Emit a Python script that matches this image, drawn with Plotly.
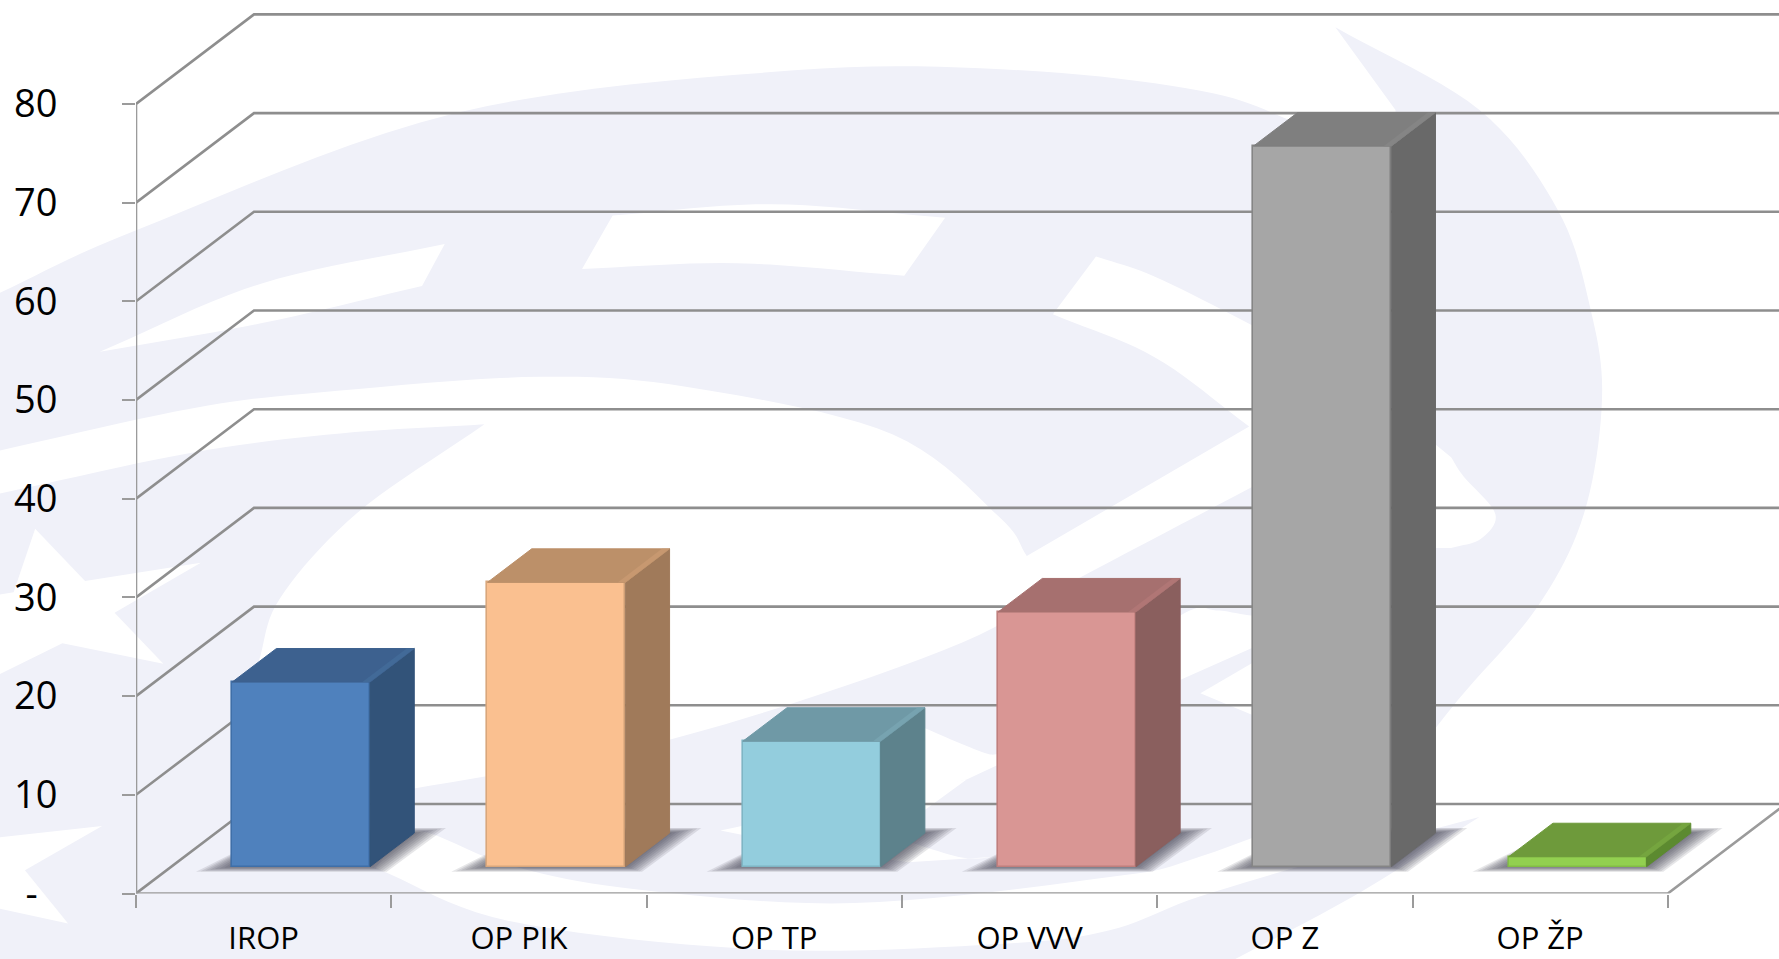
import numpy as np
import plotly.graph_objects as go

# ---- data ----
categories = ["IROP", "OP PIK", "OP TP", "OP VVV", "OP Z", "OP ŽP"]
values = [18.7, 28.8, 12.7, 25.8, 73.0, 1.0]
front_colors = ["#4f81bd", "#fac090", "#93cddd", "#d99694", "#a6a6a6", "#92d050"]
top_colors = ["#3d618f", "#bc9069", "#6f99a6", "#a6706f", "#7f7f7f", "#6e9a3b"]
side_colors = ["#325379", "#a07a5a", "#5d828c", "#8a5f5e", "#696969", "#5c8a30"]
edge_colors = ["#3f6fa8", "#d9a77c", "#7fb5c4", "#c07f7d", "#858585", "#82bd45"]
hi_colors = ["#426a98", "#c79870", "#77a3b0", "#b07675", "#858585", "#75a53f"]
y_ticks = [0, 10, 20, 30, 40, 50, 60, 70, 80]
y_labels = ["-\u00a0\u00a0", "10", "20", "30", "40", "50", "60", "70", "80"]

# ---- layout constants ----
W, H = 1779, 959
AX_L, AX_B = 136, 65.5
PX_X = 255.3
PX_Y = 9.87
DX = 118 / PX_X   # depth offset of the back wall
DY = 89.5 / PX_Y
FRONT, BACK = 0.30, 0.675
BAR_W = 0.54
XMAX = (W - AX_L) / PX_X
YMAX = (H - AX_B) / PX_Y
GRID = "#8e8e8e"
LAV = "#f0f1f9"
FS = 1779 / 1568


def smooth(pts, n=10):
    """Catmull-Rom sampling for the outlines of the watermark."""
    p = np.array(pts, float)
    p = np.vstack([2 * p[0] - p[1], p, 2 * p[-1] - p[-2]])
    out = []
    for i in range(1, len(p) - 2):
        for t in np.linspace(0, 1, n, endpoint=False):
            a, b, c, d = p[i - 1], p[i], p[i + 1], p[i + 2]
            out.append(0.5 * (2 * b + (c - a) * t + (2 * a - 5 * b + 4 * c - d) * t**2 + (3 * b - a - 3 * c + d) * t**3))
    out.append(p[-2])
    return [tuple(q) for q in out]


def path(pts):
    parts = []
    for i, (x, y) in enumerate(pts):
        parts.append(("M" if i == 0 else "L") + f"{x * FS / W:.5f},{1 - y * FS / H:.5f}")
    return " ".join(parts) + " Z"


# watermark outlines (coordinates of the 1568 wide view)
blob = (
    smooth([(0, 258), (120, 203), (400, 100), (700, 62), (900, 62), (1058, 80), (1137, 106), (1230, 150)])
    + [(1230, 97)]
    + smooth([(1177, 24), (1304, 97), (1373, 185), (1402, 273), (1412, 352), (1396, 453), (1355, 535), (1285, 617), (1228, 690)])
    + smooth([(1228, 690), (1058, 755), (978, 773), (753, 796), (562, 784), (450, 763), (365, 732), (331, 765)])
    + smooth([(331, 765), (450, 812), (674, 837), (881, 832), (978, 820), (1058, 790), (1200, 748), (1304, 720)])
    + smooth([(1304, 720), (1198, 787), (1093, 843), (1080, 850)])
    + [(0, 850)]
)
w_big = (
    smooth([(0, 397), (169, 360), (281, 346), (478, 332), (618, 343), (787, 383), (881, 456), (905, 490)])
    + [(1101, 376)]
    + smooth([(1101, 376), (1018, 315), (928, 277)])
    + smooth([(966, 226), (1018, 244), (1106, 288), (1200, 340), (1279, 403)])
    + smooth([(1279, 403), (1290, 420), (1318, 453), (1305, 475), (1279, 483)])
    + [(1228, 483), (1106, 428)]
    + smooth([(1106, 428), (950, 510), (832, 573), (590, 652), (365, 695), (326, 700)])
    + [(215, 680)]
    + smooth([(228, 583), (247, 527), (315, 452), (427, 374)])
    + smooth([(427, 374), (300, 382), (169, 399), (0, 435)])
)
w_stripe = smooth([(88, 310), (230, 250), (392, 215)]) + smooth([(372, 252), (230, 285), (88, 310)])
w_quad = smooth([(540, 190), (680, 180), (833, 192)]) + smooth([(797, 243), (650, 232), (513, 237)])
w_star1 = [(0, 524), (12, 522), (31, 466), (75, 512), (177, 496), (101, 540), (144, 585), (55, 567), (0, 594)]
w_star2 = [(0, 738), (90, 728), (22, 767), (60, 814), (0, 801)]
w_hook = (
    smooth([(780, 625), (818, 643), (866, 663), (880, 665)])
    + smooth([(960, 600), (1043, 541), (1072, 538), (1106, 543), (1228, 560)])
    + [(1228, 590), (1106, 570), (1043, 598), (852, 687), (777, 705), (777, 660)]
)
w_low = smooth([(635, 732), (760, 705), (852, 687)]) + [(800, 725)] + smooth([(804, 743), (849, 756), (881, 755)]) + [(800, 760), (700, 745)]
w_small = [(1058, 611), (1106, 583), (1106, 631)]

shapes = [dict(type="path", xref="paper", yref="paper", path=path(blob), fillcolor=LAV, line_width=0, layer="below")]
for cut in (w_big, w_stripe, w_quad, w_star1, w_star2, w_hook, w_low, w_small):
    shapes.append(dict(type="path", xref="paper", yref="paper", path=path(cut), fillcolor="#ffffff", line_width=0, layer="below"))

fig = go.Figure()


def line(xs, ys, color=GRID, width=2.6):
    fig.add_trace(go.Scatter(x=xs, y=ys, mode="lines", line=dict(color=color, width=width), hoverinfo="skip", showlegend=False))


# back wall and side wall
for v in y_ticks:
    line([0, DX, XMAX], [v, v + DY, v + DY])
# floor edges and axes
line([0, 0], [0, 80], "#9b9b9b", 2.6)
line([0, 6, 6 + DX], [0, 0, DY], "#9b9b9b", 2.6)

centers = [i + 0.5 + FRONT * DX + 0.008 for i in range(len(categories))]

# soft shadows on the floor
for i, c in enumerate(centers):
    x0 = c - BAR_W / 2
    x1 = c + BAR_W / 2
    for e in (0.115, 0.10, 0.085, 0.07, 0.055, 0.04, 0.025, 0.01):
        d0, d1 = FRONT - e * 0.5, BACK + e * 0.5
        xs = [x0 - e + (d0 - FRONT) * DX, x1 + e * 0.8 + (d0 - FRONT) * DX, x1 + e * 0.85 + (d1 - FRONT) * DX, x0 + (d1 - FRONT) * DX, x0 - e + (d0 - FRONT) * DX]
        ys = [d0 * DY, d0 * DY, d1 * DY, d1 * DY, d0 * DY]
        fig.add_trace(go.Scatter(x=xs, y=ys, mode="lines", fill="toself", fillcolor="rgba(65,65,80,0.13)", line_width=0, hoverinfo="skip", showlegend=False))

# bars on an overlaid pair of axes so they sit above the walls
fig.add_trace(go.Bar(
    x=centers, y=values, base=[FRONT * DY] * len(values), width=BAR_W,
    marker=dict(color=front_colors, line=dict(color=edge_colors, width=1.6)),
    xaxis="x2", yaxis="y2", showlegend=False, hovertext=categories,
))
ddx = (BACK - FRONT) * DX
ddy = (BACK - FRONT) * DY
for i, (c, v) in enumerate(zip(centers, values)):
    x0, x1 = c - BAR_W / 2, c + BAR_W / 2
    b = FRONT * DY
    t = b + v
    # right side
    fig.add_trace(go.Scatter(x=[x1, x1 + ddx, x1 + ddx, x1, x1], y=[b, b + ddy, t + ddy, t, b], mode="lines", fill="toself",
                             fillcolor=side_colors[i], line=dict(color=side_colors[i], width=1), xaxis="x2", yaxis="y2", hoverinfo="skip", showlegend=False))
    # top
    fig.add_trace(go.Scatter(x=[x0, x1, x1 + ddx, x0 + ddx, x0], y=[t, t, t + ddy, t + ddy, t], mode="lines", fill="toself",
                             fillcolor=top_colors[i], line=dict(color=top_colors[i], width=1), xaxis="x2", yaxis="y2", hoverinfo="skip", showlegend=False))
    # lighter bevel along the right edge of the top
    s = 0.03
    fig.add_trace(go.Scatter(x=[x1 - s, x1, x1 + ddx, x1 + ddx - s, x1 - s], y=[t, t, t + ddy, t + ddy, t], mode="lines", fill="toself",
                             fillcolor=hi_colors[i], line_width=0, xaxis="x2", yaxis="y2", hoverinfo="skip", showlegend=False))

AXFONT = dict(family="Open Sans, Noto Sans, sans-serif", color="#000000")
fig.update_layout(
    width=W, height=H, autosize=False,
    margin=dict(l=0, r=0, t=0, b=0),
    paper_bgcolor="#ffffff", plot_bgcolor="rgba(0,0,0,0)",
    showlegend=False, shapes=shapes,
    xaxis=dict(
        domain=[AX_L / W, 1], range=[0, XMAX], showgrid=False, zeroline=False, showline=False, automargin=False,
        tickmode="array", tickvals=[i + 0.5 for i in range(6)], ticktext=categories,
        ticks="outside", ticklen=17, tickcolor="rgba(0,0,0,0)", tickfont=dict(size=31, **AXFONT),
        minor=dict(tickmode="array", tickvals=list(range(7)), ticks="outside", ticklen=13, tickcolor="#9b9b9b", tickwidth=2, showgrid=False),
    ),
    yaxis=dict(
        domain=[AX_B / H, 1], range=[0, YMAX], showgrid=False, zeroline=False, showline=False, automargin=False,
        tickmode="array", tickvals=y_ticks, ticktext=y_labels,
        ticks="outside", ticklen=13, tickcolor="#9b9b9b", tickwidth=2,
        ticklabelstandoff=57, tickfont=dict(size=38, **AXFONT),
    ),
    xaxis2=dict(overlaying="x", matches="x", visible=False, domain=[AX_L / W, 1], range=[0, XMAX], automargin=False),
    yaxis2=dict(overlaying="y", matches="y", visible=False, domain=[AX_B / H, 1], range=[0, YMAX], automargin=False),
    bargap=0,
)

fig.write_html("out.html", config={"displayModeBar": False}, post_script="document.body.style.margin='0';")
